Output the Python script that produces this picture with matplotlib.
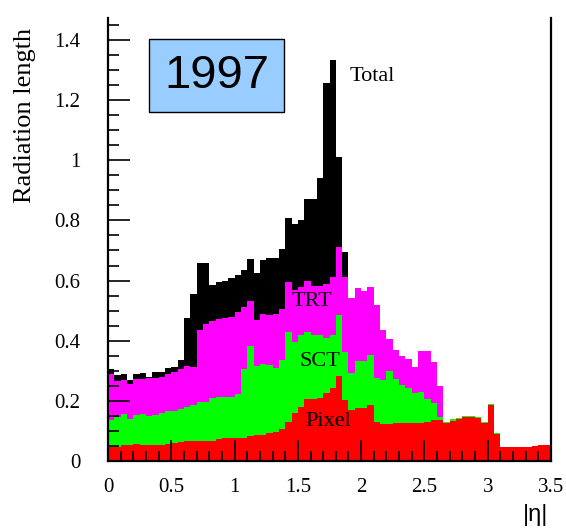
import numpy as np
import matplotlib
matplotlib.use("Agg")
import matplotlib.pyplot as plt
from matplotlib.patches import Rectangle
from matplotlib.ticker import MultipleLocator, FormatStrFormatter

plt.rcParams['font.family'] = ['Liberation Serif', 'DejaVu Serif']

# |eta| bins, 0 to 3.5 in steps of 0.05
eta_edges = np.linspace(0, 3.5, 71)

# cumulative tops of each stacked layer (radiation length)
pixel_top = [0.048, 0.048, 0.052, 0.053, 0.055, 0.053, 0.054, 0.054, 0.054, 0.056,
             0.059, 0.063, 0.066, 0.066, 0.066, 0.066, 0.068, 0.072, 0.075, 0.075,
             0.076, 0.077, 0.082, 0.086, 0.088, 0.092, 0.098, 0.107, 0.131, 0.159,
             0.179, 0.205, 0.205, 0.210, 0.227, 0.242, 0.283, 0.203, 0.170, 0.175,
             0.175, 0.186, 0.131, 0.123, 0.123, 0.128, 0.125, 0.125, 0.126, 0.126,
             0.130, 0.136, 0.136, 0.125, 0.134, 0.140, 0.146, 0.146, 0.142, 0.127,
             0.186, 0.090, 0.046, 0.045, 0.045, 0.046, 0.047, 0.051, 0.053, 0.053]

sct_top = [0.136, 0.147, 0.156, 0.139, 0.153, 0.156, 0.150, 0.154, 0.159, 0.165,
           0.167, 0.173, 0.181, 0.185, 0.196, 0.196, 0.210, 0.214, 0.214, 0.214,
           0.223, 0.305, 0.384, 0.315, 0.323, 0.320, 0.308, 0.336, 0.428, 0.397,
           0.419, 0.430, 0.419, 0.420, 0.410, 0.420, 0.486, 0.364, 0.292, 0.333,
           0.333, 0.353, 0.275, 0.270, 0.300, 0.273, 0.253, 0.242, 0.225, 0.231,
           0.205, 0.192, 0.147, 0.129, 0.138, 0.144, 0.150, 0.150, 0.146, 0.131,
           0.190, 0.094, 0.048, 0.045, 0.045, 0.046, 0.047, 0.051, 0.053, 0.053]

trt_top = [0.290, 0.267, 0.270, 0.256, 0.272, 0.272, 0.275, 0.277, 0.278, 0.289,
           0.296, 0.306, 0.316, 0.314, 0.436, 0.456, 0.467, 0.472, 0.475, 0.480,
           0.495, 0.512, 0.533, 0.470, 0.488, 0.487, 0.490, 0.505, 0.594, 0.569,
           0.578, 0.599, 0.581, 0.582, 0.590, 0.611, 0.711, 0.613, 0.541, 0.574,
           0.565, 0.580, 0.519, 0.436, 0.405, 0.369, 0.349, 0.338, 0.314, 0.366,
           0.366, 0.330, 0.250, 0.129, 0.138, 0.144, 0.150, 0.150, 0.146, 0.131,
           0.190, 0.094, 0.048, 0.045, 0.045, 0.046, 0.047, 0.051, 0.053, 0.053]

total_top = [0.305, 0.286, 0.288, 0.270, 0.288, 0.292, 0.280, 0.295, 0.295, 0.309,
             0.313, 0.336, 0.475, 0.556, 0.660, 0.660, 0.585, 0.596, 0.600, 0.607,
             0.620, 0.635, 0.672, 0.624, 0.668, 0.674, 0.674, 0.704, 0.809, 0.787,
             0.800, 0.870, 0.870, 0.940, 1.258, 1.334, 1.012, 0.696, 0.541, 0.574,
             0.565, 0.580, 0.519, 0.436, 0.405, 0.369, 0.349, 0.338, 0.314, 0.366,
             0.366, 0.330, 0.250, 0.129, 0.138, 0.144, 0.150, 0.150, 0.146, 0.131,
             0.190, 0.094, 0.048, 0.045, 0.045, 0.046, 0.047, 0.051, 0.053, 0.053]

layers = [(total_top, 'black'), (trt_top, '#ff00ff'), (sct_top, '#00ff00'), (pixel_top, '#ff0000')]
labels = [("Total", 2.09, 1.277), ("TRT", 1.61, 0.532), ("SCT", 1.675, 0.33), ("Pixel", 1.74, 0.133)]

fig = plt.figure(figsize=(5.66, 5.29), dpi=100)
ax = fig.add_axes([108/566, 1 - 461/529, 443/566, 443/529])

for tops, col in layers:
    ax.stairs(tops, eta_edges, fill=True, color=col, baseline=0, linewidth=0)

for txt, x, y in labels:
    ax.text(x, y, txt, fontsize=16, ha='center', va='center')

ax.set_xlim(0, 3.5)
ax.set_ylim(0, 1.473)
ax.xaxis.set_major_locator(MultipleLocator(0.5))
ax.xaxis.set_minor_locator(MultipleLocator(0.1))
ax.yaxis.set_major_locator(MultipleLocator(0.2))
ax.yaxis.set_minor_locator(MultipleLocator(0.05))
ax.xaxis.set_major_formatter(FormatStrFormatter('%g'))
ax.yaxis.set_major_formatter(FormatStrFormatter('%g'))
ax.tick_params(axis='x', which='major', direction='in', length=15, width=1.2, labelsize=15, pad=12)
ax.tick_params(axis='x', which='minor', direction='in', length=7.5, width=1.2)
ax.tick_params(axis='y', which='major', direction='in', length=16, width=1.2, labelsize=15, pad=20)
ax.tick_params(axis='y', which='minor', direction='in', length=8, width=1.2)
ax.spines['top'].set_visible(False)
for s in ['left', 'bottom', 'right']:
    ax.spines[s].set_linewidth(1.6)

fig.text(25/566, 1 - 28/529, "Radiation length", rotation=90, ha='center', va='top', fontsize=19)
fig.text(536/566, 1 - 515/529, "|\u03b7|", ha='center', va='center', fontsize=17,
         family=['Liberation Sans', 'DejaVu Sans'])

fig.patches.append(Rectangle((149/566, 1 - 112/529), 135/566, 73/529, transform=fig.transFigure,
                             facecolor='#99ccff', edgecolor='black', linewidth=1))
fig.text(217/566, 1 - 76/529, "1997", ha='center', va='center', fontsize=34,
         family=['Liberation Sans', 'DejaVu Sans'])

fig.savefig("out.png", dpi=100)
